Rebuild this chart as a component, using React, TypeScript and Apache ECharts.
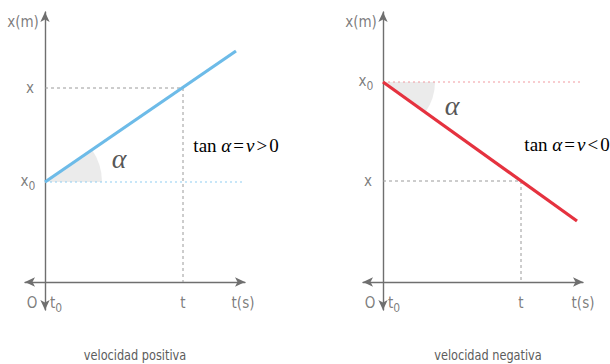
import React, { useEffect, useRef } from 'react';
import * as echarts from 'echarts';

// ---- data ----
const timeRange = [-1, 10];
const posRange = [-1.4, 13.5];
const positiveLine = [[0, 5], [9.55, 11.55]];
const negativeLine = [[0, 10], [9.7, 3.05]];
const positiveReading = [6.9, 9.7];
const negativeReading = [6.9, 5.05];
const guideEnds = [9.9, 10];
const axisNames = ['x(m)', 't(s)'];
const posLabels = ['x', 'x0'];
const timeLabels = ['O', 't0', 't'];
const captions = ['velocidad positiva', 'velocidad negativa'];
const formulaSigns = ['>', '<'];

const lineColors = ['#6dbbe8', '#e5323f'];
const guideColors = ['#8fcdf2', '#f29a9f'];
const sectorRadius = [57, 52];
const alphaOffsets = [[74, -24], [69, 23]];
const gridLefts = [25, 363];
const formulaCenters = [[236, 145], [567, 144]];
const captionCenters = [[135, 355], [488, 355]];

const LABEL_FONT = "'Liberation Sans Narrow', 'DejaVu Sans Condensed', 'Roboto', sans-serif";
const SERIF = "'Liberation Serif', 'DejaVu Serif', serif";
const LABEL_COLOR = '#5c5c5c';

const subRich = {
  m: { fontSize: 15, fontFamily: LABEL_FONT, color: LABEL_COLOR, lineHeight: 22 },
  s: { fontSize: 12, fontFamily: LABEL_FONT, color: LABEL_COLOR, lineHeight: 12, verticalAlign: 'bottom' },
};

function fmtSub(txt: string) {
  if (txt.endsWith('0')) return '{m|' + txt.slice(0, -1) + '}{s|0}';
  return '{m|' + txt + '}';
}

function buildPanel(i: number) {
  const line = i === 0 ? positiveLine : negativeLine;
  const reading = i === 0 ? positiveReading : negativeReading;
  const x0 = line[0][1];
  const t0 = line[0][0];

  const labelItem = (value: number[], text: string, offset: number[]) => ({
    value,
    label: {
      show: true,
      position: 'inside',
      offset,
      formatter: fmtSub(text),
      rich: subRich,
    },
  });

  const labels = [
    labelItem([t0, 13], axisNames[0], [-22, 0]),
    labelItem([t0, reading[1]], posLabels[0], [-15, 0]),
    labelItem([t0, x0], posLabels[1], [-17, -1]),
    labelItem([t0, 0], timeLabels[0], [-13, 21]),
    labelItem([t0, 0], timeLabels[1], [11, 21]),
    labelItem([reading[0], 0], timeLabels[2], [0, 21]),
    labelItem([timeRange[1], 0], axisNames[1], [i === 0 ? -2 : 0, 21]),
  ];

  return [
    {
      type: 'custom',
      xAxisIndex: i,
      yAxisIndex: i,
      z: 1,
      data: [[line[0][0], line[0][1], line[1][0], line[1][1]]],
      encode: { x: [0, 2], y: [1, 3] },
      renderItem: (_p: any, api: any) => {
        const p0 = api.coord([api.value(0), api.value(1)]);
        const p1 = api.coord([api.value(2), api.value(3)]);
        const ang = Math.atan2(p1[1] - p0[1], p1[0] - p0[0]);
        return {
          type: 'sector',
          shape: {
            cx: p0[0],
            cy: p0[1],
            r: sectorRadius[i],
            r0: 0,
            startAngle: Math.min(0, ang),
            endAngle: Math.max(0, ang),
            clockwise: true,
          },
          style: { fill: '#ebebeb' },
        };
      },
    },
    {
      type: 'line',
      xAxisIndex: i,
      yAxisIndex: i,
      z: 2,
      data: [[0, reading[1]], [reading[0], reading[1]], [reading[0], 0]],
      showSymbol: false,
      lineStyle: { color: '#9a9a9a', width: 1, type: [3, 3] },
    },
    {
      type: 'line',
      xAxisIndex: i,
      yAxisIndex: i,
      z: 2,
      data: [[t0, x0], [guideEnds[i], x0]],
      showSymbol: false,
      lineStyle: { color: guideColors[i], width: 1.2, type: [2, 3] },
    },
    {
      type: 'line',
      xAxisIndex: i,
      yAxisIndex: i,
      z: 4,
      data: line,
      showSymbol: false,
      lineStyle: { color: lineColors[i], width: 3.2, cap: 'butt' },
    },
    {
      type: 'scatter',
      xAxisIndex: i,
      yAxisIndex: i,
      z: 5,
      symbolSize: 1,
      itemStyle: { color: 'rgba(0,0,0,0)' },
      data: [
        ...labels,
        {
          value: [t0, x0],
          label: {
            show: true,
            position: 'inside',
            offset: alphaOffsets[i],
            formatter: 'α',
            fontFamily: SERIF,
            fontStyle: 'italic',
            fontSize: 28,
            color: '#2a2a2a',
          },
        },
      ],
    },
  ];
}

export default function App() {
  const ref = useRef<HTMLDivElement>(null);
  useEffect(() => {
    if (!ref.current) return;
    const chart = echarts.init(ref.current, undefined, { renderer: 'svg' });
    const axisLine = {
      onZero: true,
      symbol: ['arrow', 'arrow'],
      symbolSize: [7, 10],
      lineStyle: { color: '#6f6f6f', width: 1.4 },
    };
    const common = {
      type: 'value',
      axisTick: { show: false },
      axisLabel: { show: false },
      splitLine: { show: false },
      axisLine,
    };
    const formulaRich = {
      u: { fontFamily: SERIF, fontSize: 19, color: '#4a4a4a' },
      o: { fontFamily: SERIF, fontSize: 19, color: '#4a4a4a', padding: [0, 2, 0, 2] },
      it: { fontFamily: SERIF, fontSize: 19, fontStyle: 'italic', color: '#4a4a4a' },
    };
    chart.setOption({
      animation: false,
      backgroundColor: '#ffffff',
      grid: gridLefts.map((l) => ({ left: l, top: 12, width: 220, height: 298 })),
      xAxis: gridLefts.map((_, i) => ({ ...common, gridIndex: i, min: timeRange[0], max: timeRange[1] })),
      yAxis: gridLefts.map((_, i) => ({ ...common, gridIndex: i, min: posRange[0], max: posRange[1] })),
      series: [...buildPanel(0), ...buildPanel(1)],
      graphic: [
        ...formulaCenters.map((c, i) => ({
          type: 'text',
          x: c[0],
          y: c[1],
          style: {
            text: '{u|tan }{it|α}{o|=}{it|v}{o|' + formulaSigns[i] + '}{u|0}',
            rich: formulaRich,
            align: 'center',
            verticalAlign: 'middle',
          },
        })),
        ...captionCenters.map((c, i) => ({
          type: 'text',
          x: c[0],
          y: c[1],
          scaleX: 0.9,
          style: {
            text: captions[i],
            fontFamily: LABEL_FONT,
            fontSize: 14,
            fill: LABEL_COLOR,
            align: 'center',
            verticalAlign: 'middle',
          },
        })),
      ],
    });
    return () => chart.dispose();
  }, []);
  return (
    <div
      ref={ref}
      style={{ position: 'absolute', left: 0, top: 0, width: 610, height: 364, background: '#fff' }}
    />
  );
}
